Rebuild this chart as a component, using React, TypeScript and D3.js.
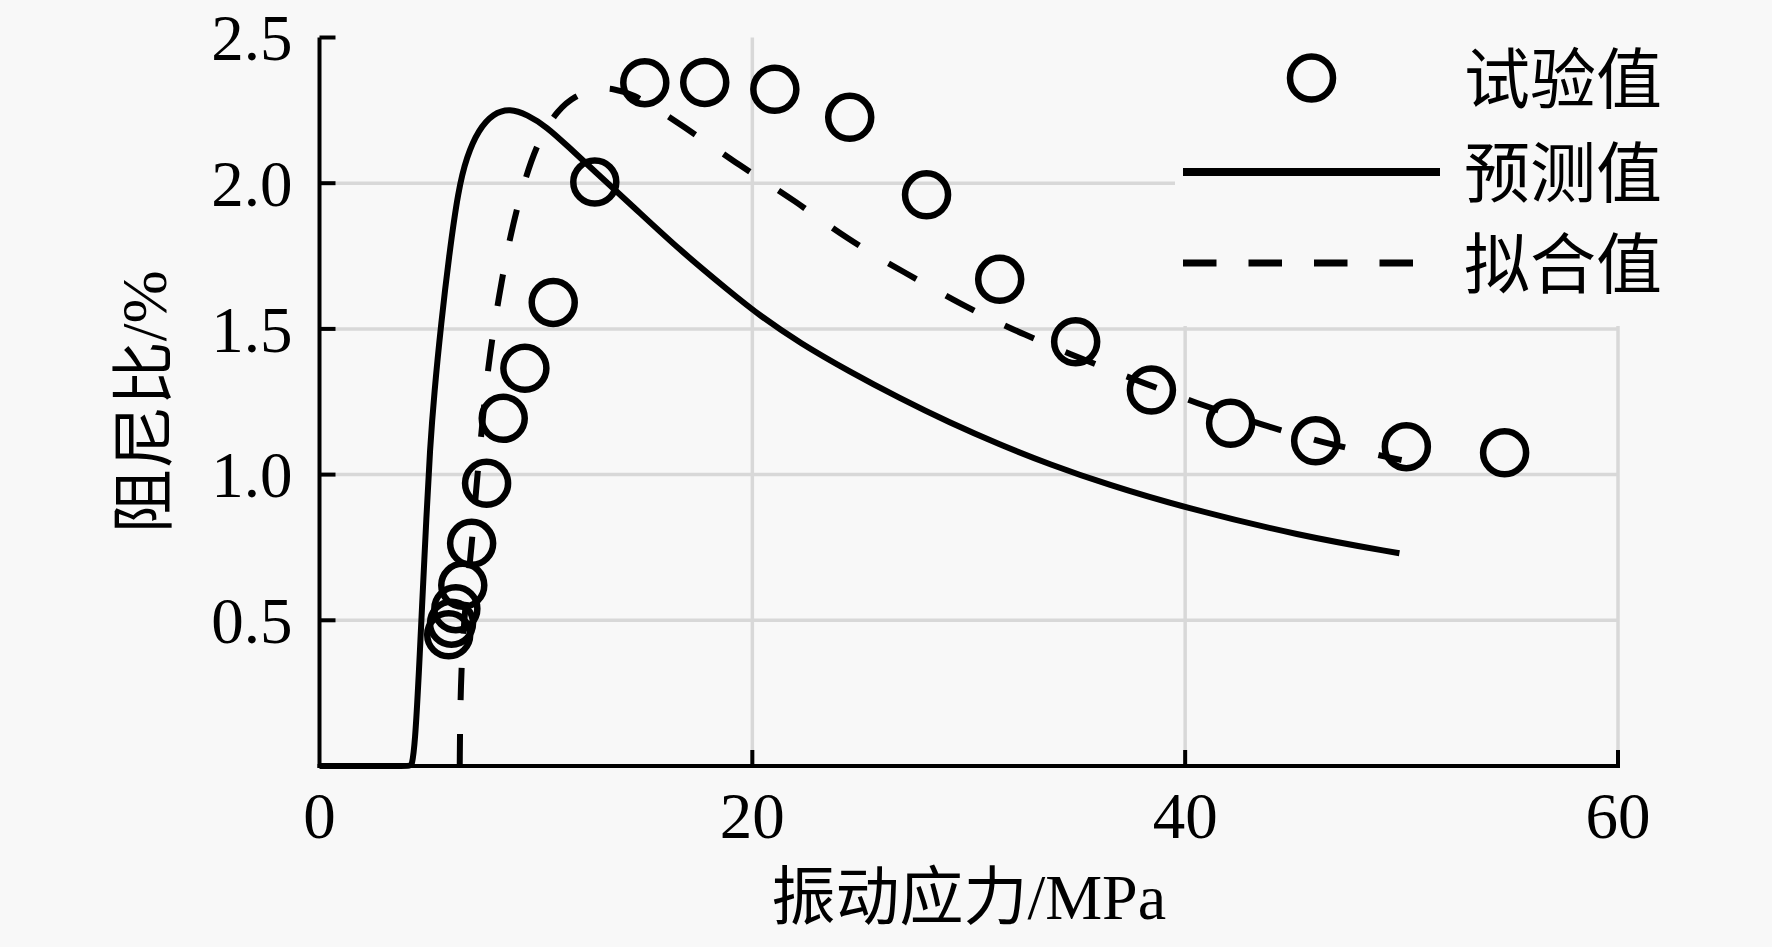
import React, { useRef, useEffect } from 'react';
import * as d3 from 'd3';

// 试验值 (measured points)
const testX = [5.97, 6.1, 6.3, 6.62, 7.03, 7.72, 8.49, 9.49, 10.8, 12.72, 15.03, 17.8, 21.04, 24.5, 28.05, 31.43, 34.94, 38.44, 42.1, 46.03, 50.22, 54.76];
const testY = [0.45, 0.49, 0.54, 0.62, 0.764, 0.97, 1.193, 1.365, 1.591, 2.004, 2.345, 2.346, 2.322, 2.226, 1.96, 1.67, 1.456, 1.29, 1.176, 1.116, 1.096, 1.075];

// 预测值 (solid curve)
const predX = [0, 4.2, 4.26, 4.41, 4.6, 4.72, 4.95, 5.1, 5.3, 5.62, 5.98, 6.41, 6.8, 7.34, 8.03, 8.8, 9.6, 10.49, 11.5, 12.65, 14.49, 16.65, 18.96, 20.35, 22.19, 24.5, 26.81, 29.12, 31.43, 33.74, 36.4, 39.9, 45.29, 49.9];
const predY = [0, 0, 0, 0.07, 0.33, 0.52, 0.87, 1.084, 1.28, 1.519, 1.748, 1.977, 2.091, 2.183, 2.24, 2.257, 2.235, 2.194, 2.125, 2.045, 1.92, 1.77, 1.628, 1.545, 1.452, 1.353, 1.262, 1.178, 1.103, 1.035, 0.966, 0.888, 0.79, 0.73];

// 拟合值 (dashed curve)
const fitX = [6.48, 6.5, 6.6, 6.8, 7.03, 7.2, 7.5, 7.8, 8.26, 8.8, 9.5, 10.2, 11.0, 11.8, 12.8, 13.6, 14.5, 15.7, 16.9, 18.2, 19.4, 20.7, 22.0, 23.2, 24.4, 25.7, 27.05, 28.35, 29.66, 31.05, 32.43, 34.8, 36.67, 38.05, 39.6, 40.8, 42.52, 43.82, 45.29, 46.67, 48.3, 49.45, 50];
const fitY = [0, 0.2, 0.42, 0.6, 0.75, 0.92, 1.16, 1.38, 1.6, 1.82, 2.02, 2.16, 2.25, 2.3, 2.326, 2.325, 2.305, 2.25, 2.19, 2.125, 2.062, 2.0, 1.937, 1.872, 1.811, 1.75, 1.693, 1.639, 1.585, 1.533, 1.485, 1.41, 1.355, 1.315, 1.273, 1.238, 1.197, 1.165, 1.134, 1.105, 1.078, 1.058, 1.05];

const xTicks = [0, 20, 40, 60];
const yTicks = [0.5, 1.0, 1.5, 2.0, 2.5];
const gridXValues = [20, 40, 60];
const gridYValues = [0.5, 1.0, 1.5, 2.0];
const legendLabels = ['试验值', '预测值', '拟合值'];
const xTitle = '振动应力/MPa';
const yTitle = '阻尼比/%';

const W = 1772;
const H = 947;
const BG = '#f8f8f8';
const FONT = "'Liberation Serif', 'Times New Roman', 'Noto Sans CJK SC', serif";

const App: React.FC = () => {
  const svgRef = useRef<SVGSVGElement>(null);

  useEffect(() => {
    document.body.style.margin = '0';
    document.body.style.background = BG;
    if (!svgRef.current) return;

    const svg = d3.select(svgRef.current);
    svg.selectAll('*').remove();

    const x = d3.scaleLinear().domain([0, 60]).range([319.5, 1618]);
    const y = d3.scaleLinear().domain([0, 2.5]).range([766, 37.5]);

    svg.append('rect').attr('width', W).attr('height', H).attr('fill', BG);

    // grid
    const grid = svg.append('g').attr('stroke', '#d8d8d8').attr('stroke-width', 3.5);
    grid.selectAll('line.gy')
      .data(gridYValues)
      .enter()
      .append('line')
      .attr('x1', x(0)).attr('x2', x(60))
      .attr('y1', d => y(d)).attr('y2', d => y(d));
    grid.selectAll('line.gx')
      .data(gridXValues)
      .enter()
      .append('line')
      .attr('x1', d => x(d)).attr('x2', d => x(d))
      .attr('y1', y(0)).attr('y2', y(2.5));

    // legend background hides the grid behind it
    svg.append('rect')
      .attr('x', 1175).attr('y', 20)
      .attr('width', 480).attr('height', 306)
      .attr('fill', BG);

    // curves
    const line = d3.line<[number, number]>()
      .x(d => x(d[0]))
      .y(d => y(d[1]))
      .curve(d3.curveBasis);

    const predPts = predX.map((v, i) => [v, predY[i]] as [number, number]);
    const fitPts = fitX.map((v, i) => [v, fitY[i]] as [number, number]);

    svg.append('path')
      .datum(predPts)
      .attr('d', line)
      .attr('fill', 'none')
      .attr('stroke', '#000')
      .attr('stroke-width', 6);

    svg.append('path')
      .datum(fitPts)
      .attr('d', line)
      .attr('fill', 'none')
      .attr('stroke', '#000')
      .attr('stroke-width', 6)
      .attr('stroke-dasharray', '32 34');

    // measured points
    svg.append('g')
      .selectAll('circle')
      .data(testX.map((v, i) => [v, testY[i]]))
      .enter()
      .append('circle')
      .attr('cx', d => x(d[0]))
      .attr('cy', d => y(d[1]))
      .attr('r', 21.5)
      .attr('fill', 'none')
      .attr('stroke', '#000')
      .attr('stroke-width', 6.5);

    // axes
    const axes = svg.append('g').attr('stroke', '#000').attr('stroke-width', 4);
    axes.append('line').attr('x1', x(0)).attr('x2', x(0)).attr('y1', y(2.5)).attr('y2', y(0) + 2);
    axes.append('line').attr('x1', x(0) - 2).attr('x2', x(60) + 2).attr('y1', y(0)).attr('y2', y(0));
    axes.selectAll('line.yt')
      .data(yTicks)
      .enter()
      .append('line')
      .attr('x1', x(0)).attr('x2', x(0) + 16)
      .attr('y1', d => y(d)).attr('y2', d => y(d));
    axes.selectAll('line.xt')
      .data(xTicks.filter(d => d > 0))
      .enter()
      .append('line')
      .attr('x1', d => x(d)).attr('x2', d => x(d))
      .attr('y1', y(0)).attr('y2', y(0) - 16);

    // tick labels
    svg.append('g')
      .selectAll('text')
      .data(yTicks)
      .enter()
      .append('text')
      .attr('x', x(0) - 27)
      .attr('y', d => y(d))
      .attr('dy', '0.35em')
      .attr('text-anchor', 'end')
      .attr('font-family', FONT)
      .attr('font-size', 65)
      .text(d => d3.format('.1f')(d));

    svg.append('g')
      .selectAll('text')
      .data(xTicks)
      .enter()
      .append('text')
      .attr('x', d => x(d))
      .attr('y', 815)
      .attr('dy', '0.35em')
      .attr('text-anchor', 'middle')
      .attr('font-family', FONT)
      .attr('font-size', 65)
      .text(d => String(d));

    // axis titles
    svg.append('text')
      .attr('x', (x(0) + x(60)) / 2)
      .attr('y', 897)
      .attr('dy', '0.35em')
      .attr('text-anchor', 'middle')
      .attr('font-family', FONT)
      .attr('font-size', 64)
      .text(xTitle);

    svg.append('text')
      .attr('transform', `translate(144,${(y(0) + y(2.5)) / 2}) rotate(-90)`)
      .attr('dy', '0.35em')
      .attr('text-anchor', 'middle')
      .attr('font-family', FONT)
      .attr('font-size', 64)
      .text(yTitle);

    // legend
    const rowY = [78, 172, 263];
    const legend = svg.append('g');
    legend.append('circle')
      .attr('cx', 1311.5).attr('cy', rowY[0])
      .attr('r', 21.5)
      .attr('fill', 'none')
      .attr('stroke', '#000')
      .attr('stroke-width', 6.5);
    legend.append('line')
      .attr('x1', 1183).attr('x2', 1440)
      .attr('y1', rowY[1]).attr('y2', rowY[1])
      .attr('stroke', '#000').attr('stroke-width', 8);
    legend.append('line')
      .attr('x1', 1183).attr('x2', 1414)
      .attr('y1', rowY[2]).attr('y2', rowY[2])
      .attr('stroke', '#000').attr('stroke-width', 7)
      .attr('stroke-dasharray', '33.5 32');
    legend.selectAll('text')
      .data(legendLabels)
      .enter()
      .append('text')
      .attr('x', 1464)
      .attr('y', (_, i) => rowY[i] + 2)
      .attr('dy', '0.35em')
      .attr('font-family', FONT)
      .attr('font-size', 66)
      .text(d => d);
  }, []);

  return (
    <svg ref={svgRef} width={W} height={H} style={{ display: 'block' }} />
  );
};

export default App;
